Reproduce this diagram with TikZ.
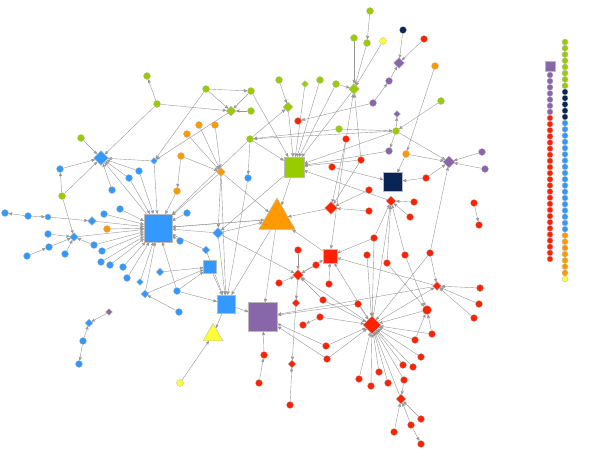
\documentclass[tikz,border=0pt]{standalone}
\usepackage{tikz}
\usetikzlibrary{shapes.geometric}
\usetikzlibrary{arrows}
\usetikzlibrary{backgrounds}
\definecolor{netblue}{RGB}{51,153,255}
\definecolor{netgreen}{RGB}{153,204,0}
\definecolor{netorange}{RGB}{255,153,0}
\definecolor{netred}{RGB}{255,34,0}
\definecolor{netpurple}{RGB}{136,102,170}
\definecolor{netnavy}{RGB}{10,36,86}
\definecolor{netyellow}{RGB}{255,255,51}
\definecolor{netgray}{RGB}{150,150,150}
\tikzset{
    vdot/.style={circle, draw=gray!55, line width=0.3pt, fill=#1, inner sep=0pt, minimum size=7pt},
    vdia/.style={diamond, draw=gray!55, line width=0.3pt, fill=#1, inner sep=0pt, minimum size=8pt},
    vsq/.style={rectangle, draw=gray!55, line width=0.4pt, fill=#1, inner sep=0pt, minimum size=14pt},
    vtri/.style={regular polygon, regular polygon sides=3, draw=gray!55, line width=0.4pt, fill=#1, inner sep=0pt, minimum size=42pt},
    ldot/.style={vdot=#1, minimum size=6pt},
    every edge/.append style={
        draw=netgray,
        ->,>=stealth',
        line width=0.4pt
    }
}
\begin{document}
\begin{tikzpicture}[x=1pt,y=-1pt]
            \useasboundingbox (0,0) rectangle (600,464);

            \node[vdia=netblue, minimum size=15pt] (bD) at (101,158) {};
            \node[vdia=netblue, minimum size=7pt] (bd1) at (154,161) {};
            \node[vdot=netblue] (b1) at (60,169) {};
            \node[vdot=netgreen] (g4) at (62,196) {};
            \node[vdot=netblue] (b2) at (139,171) {};
            \node[vdot=netblue] (b3) at (129,178) {};
            \node[vdot=netblue] (b4) at (112,190) {};
            \node[vdot=netblue] (b5) at (5,213) {};
            \node[vdot=netblue] (b6) at (28,216) {};
            \node[vdot=netblue, minimum size=6pt] (b7) at (48,217) {};
            \node[vdia=netblue, minimum size=9pt] (bd2) at (92,221) {};
            \node[vdot=netblue] (b8) at (104,214) {};
            \node[vdot=netblue] (b9) at (120,209) {};
            \node[vsq=netblue, minimum size=28pt] (bS) at (158,228) {};
            \node[vdot=netorange] (o6) at (107,229) {};
            \node[vdot=netblue] (b10) at (187,213) {};
            \node[vdot=netblue] (b11) at (48,234) {};
            \node[vdia=netblue, minimum size=9pt] (bd3) at (74,237) {};
            \node[vdot=netblue] (b12) at (49,247) {};
            \node[vdot=netblue] (b13) at (27,256) {};
            \node[vdot=netblue] (b14) at (65,254) {};
            \node[vdot=netblue] (b15) at (94,245) {};
            \node[vdot=netblue] (b16) at (102,251) {};
            \node[vdot=netblue] (b17) at (101,262) {};
            \node[vdot=netblue] (b18) at (110,265) {};
            \node[vdot=netblue] (b19) at (123,267) {};
            \node[vdot=netblue] (b20) at (127,278) {};
            \node[vdia=netblue, minimum size=7pt] (bd4) at (140,282) {};
            \node[vdia=netblue, minimum size=8pt] (bd5) at (160,272) {};
            \node[vdot=netblue] (b21) at (180,241) {};
            \node[vdia=netblue, minimum size=8pt] (bd6) at (145,294) {};
            \node[vdot=netblue] (b22) at (177,291) {};
            \node[vdot=netblue] (b23) at (179,312) {};
            \node[vdia=netblue, minimum size=11pt] (bd7) at (218,233) {};
            \node[vdia=netblue, minimum size=8pt] (bd8) at (206,250) {};
            \node[vsq=netblue, minimum size=13pt] (bs1) at (210,267) {};
            \node[vsq=netblue, minimum size=18pt] (bs2) at (226,304) {};
            \node[vdot=netblue] (b24) at (248,178) {};
            \node[vdia=netpurple, minimum size=7pt] (p1) at (109,312) {};
            \node[vdia=netblue, minimum size=8pt] (bd9) at (89,323) {};
            \node[vdot=netblue] (b25) at (83,341) {};
            \node[vdot=netblue] (b26) at (79,364) {};
            \node[vtri=netyellow, minimum size=23pt] (yT) at (213,335) {};
            \node[vdot=netyellow] (y1) at (180,383) {};
            \node[vsq=netpurple, minimum size=29pt] (pS) at (263,317) {};

            \node[vdot=netorange] (o1) at (187,134) {};
            \node[vdot=netorange] (o2) at (199,125) {};
            \node[vdot=netorange] (o3) at (215,125) {};
            \node[vdot=netorange] (o4) at (181,156) {};
            \node[vdot=netorange] (o5) at (177,191) {};
            \node[vdia=netorange, minimum size=9pt] (oD) at (221,172) {};

            \node[vdot=netgreen] (g1) at (147,76) {};
            \node[vdot=netgreen] (g2) at (157,104) {};
            \node[vdot=netgreen] (g3) at (81,138) {};
            \node[vdot=netgreen] (g5) at (370,11) {};
            \node[vdot=netgreen] (g6) at (354,38) {};
            \node[vdot=netgreen] (g7) at (367,43) {};
            \node[vdot=netyellow] (y2) at (383,41) {};
            \node[vdia=netgreen, minimum size=11pt] (gD1) at (354,89) {};
            \node[vdia=netpurple, minimum size=11pt] (pD1) at (399,63) {};
            \node[vdot=netnavy] (n1) at (403,30) {};
            \node[vdot=netred] (r1) at (424,39) {};
            \node[vdot=netpurple] (p2) at (389,81) {};
            \node[vdot=netpurple] (p3) at (373,103) {};
            \node[vdot=netgreen] (g8) at (206,89) {};
            \node[vdot=netgreen] (g9) at (251,91) {};
            \node[vdia=netgreen, minimum size=10pt] (gD2) at (231,111) {};
            \node[vdot=netgreen] (g10) at (251,111) {};
            \node[vdot=netgreen] (g11) at (279,80) {};
            \node[vdia=netgreen, minimum size=10pt] (gD3) at (288,107) {};
            \node[vdia=netgreen, minimum size=7pt] (gd4) at (305,84) {};
            \node[vdot=netgreen] (g12) at (320,80) {};
            \node[vdot=netgreen] (g13) at (336,84) {};
            \node[vdot=netred] (r2) at (298,121) {};
            \node[vdot=netgreen] (g14) at (339,129) {};
            \node[vdot=netgreen] (g15) at (250,139) {};
            \node[vdot=netred] (r3) at (346,139) {};
            \node[vdot=netred] (r4) at (361,160) {};
            \node[vdot=netpurple] (p4) at (389,151) {};
            \node[vdot=netgreen] (g16) at (396,131) {};
            \node[vdia=netpurple, minimum size=7pt] (pd2) at (397,114) {};
            \node[vdot=netorange] (o7) at (435,66) {};
            \node[vdot=netgreen] (g17) at (441,101) {};
            \node[vdot=netorange] (o8) at (406,154) {};
            \node[vdia=netpurple, minimum size=12pt] (pD3) at (449,162) {};
            \node[vdot=netpurple] (p5) at (482,152) {};
            \node[vdot=netpurple] (p6) at (485,169) {};
            \node[vsq=netgreen, minimum size=20pt] (gS) at (294,167) {};
            \node[vsq=netnavy, minimum size=19pt] (nS) at (393,182) {};
            \node[vdot=netred] (r5) at (332,167) {};
            \node[vdot=netred] (r6) at (426,178) {};
            \node[vtri=netorange] (oT) at (277,219) {};

            \node[vdot=netred] (r7) at (369,190) {};
            \node[vdia=netred, minimum size=13pt] (rD1) at (331,208) {};
            \node[vdot=netred] (r8) at (369,211) {};
            \node[vdia=netred, minimum size=10pt] (rD2) at (391,201) {};
            \node[vdot=netred] (r9) at (414,202) {};
            \node[vdot=netred] (r10) at (410,217) {};
            \node[vdot=netred] (r11) at (474,203) {};
            \node[vdot=netred] (r12) at (479,225) {};
            \node[vdot=netred] (r13) at (374,238) {};
            \node[vsq=netred] (rS) at (330,256) {};
            \node[vdot=netred] (r14) at (298,250) {};
            \node[vdot=netred] (r15) at (316,265) {};
            \node[vdot=netred] (r16) at (329,284) {};
            \node[vdia=netred, minimum size=11pt] (rD3) at (298,275) {};
            \node[vdot=netred] (r17) at (279,283) {};
            \node[vdot=netred] (r18) at (367,255) {};
            \node[vdot=netred] (r19) at (387,263) {};
            \node[vdot=netred] (r20) at (405,255) {};
            \node[vdot=netred] (r21) at (430,253) {};
            \node[vdia=netred, minimum size=9pt] (rD4) at (437,286) {};
            \node[vdot=netred] (r22) at (480,288) {};
            \node[vdot=netred] (r23) at (479,304) {};
            \node[vdot=netred] (r24) at (474,318) {};
            \node[vdot=netred, minimum size=9pt] (r25) at (427,310) {};
            \node[vdot=netred] (r26) at (415,340) {};
            \node[vdot=netred] (r27) at (432,334) {};
            \node[vdia=netred, minimum size=18pt] (rD5) at (372,325) {};
            \node[vdia=netred, minimum size=8pt] (rd6) at (296,303) {};
            \node[vdot=netred] (r28) at (323,300) {};
            \node[vdot=netred] (r29) at (358,304) {};
            \node[vdot=netred] (r30) at (320,317) {};
            \node[vdot=netred] (r31) at (303,325) {};
            \node[vdot=netred] (r32) at (326,346) {};
            \node[vdot=netred] (r33) at (327,359) {};
            \node[vdot=netred] (r34) at (264,355) {};
            \node[vdot=netred] (r35) at (259,383) {};
            \node[vdia=netred, minimum size=8pt] (rd7) at (292,364) {};
            \node[vdot=netred] (r36) at (290,405) {};
            \node[vdot=netred] (r37) at (359,379) {};
            \node[vdot=netred] (r38) at (371,386) {};
            \node[vdot=netred] (r39) at (379,372) {};
            \node[vdot=netred] (r40) at (388,383) {};
            \node[vdot=netred] (r41) at (403,365) {};
            \node[vdot=netred] (r42) at (413,367) {};
            \node[vdot=netred] (r43) at (421,357) {};
            \node[vdot=netred] (r44) at (404,380) {};
            \node[vdia=netred, minimum size=10pt] (rD8) at (401,399) {};
            \node[vdot=netred] (r45) at (421,419) {};
            \node[vdot=netred] (r46) at (411,425) {};
            \node[vdot=netred] (r47) at (394,432) {};
            \node[vdot=netred] (r48) at (421,444) {};

            \node[vsq=netpurple, minimum size=10pt] (lsq) at (550,66) {};
            \foreach \i in {0,...,6}
                \node[ldot=netpurple] (lp\i) at (550,{75+6.15*\i}) {};
            \foreach \i in {0,...,23}
                \node[ldot=netred] (lr\i) at (550,{118+6.13*\i}) {};
            \foreach \i in {0,...,7}
                \node[ldot=netgreen] (lg\i) at (565,{42+6.24*\i}) {};
            \foreach \i in {8,...,12}
                \node[ldot=netnavy] (ln\i) at (565,{42+6.24*\i}) {};
            \foreach \i in {13,...,30}
                \node[ldot=netblue] (lb\i) at (565,{42+6.24*\i}) {};
            \foreach \i in {31,...,37}
                \node[ldot=netorange] (lo\i) at (565,{42+6.24*\i}) {};
            \node[ldot=netyellow] (ly) at (565,279) {};

            \begin{scope}[on background layer]
            \draw (g2) edge (g1) edge (bD) edge (gD2);
            \draw (g3) edge (bD);
            \draw (g8) edge (g9) edge (gD2) edge (bd1);
            \draw (g9) edge (gD2) edge (gS);
            \draw (g10) edge (gD2);
            \draw (gD2) edge (bd1);
            \draw (bd1) edge (bD) edge (bS);
            \draw (b1) edge (bD);
            \draw (g4) edge (b1) edge (bD) edge (bd3);
            \draw (b2) edge (bD) edge (bS);
            \draw (b3) edge (bD) edge (bS);
            \draw (b4) edge (bD);
            \draw (bS) edge (bD) edge (oT);
            \draw (o1) edge (oD);
            \draw (o2) edge (oD);
            \draw (o3) edge (oD);
            \draw (o4) edge (o5) edge (oD);
            \draw (o5) edge (bS);
            \draw (oD) edge (bS) edge (bd7) edge (oT) edge (bs2);
            \draw (b6) edge (b5) edge (b7);
            \draw (b7) edge (bd2);
            \draw (bd2) edge (bS);
            \foreach \v in {b8,b9,o6,b10,b16,b17,b18,b19,b20,bd4,b21,b22,bd6}
                \draw (\v) edge (bS);
            \draw (b11) edge (bd3);
            \draw (b12) edge (bd3);
            \draw (b13) edge (b12);
            \draw (b14) edge (bd3);
            \draw (b15) edge (bd3) edge (bS);
            \draw (bd3) edge (bS);
            \draw (bd5) edge (bs1);
            \draw (b22) edge (bs1) edge (bs2);
            \draw (bd6) edge (bs1);
            \draw (b23) edge (bd6);
            \draw (bd7) edge (bS) edge (bs2) edge (oT) edge (rD3);
            \draw (bd8) edge (bS) edge (bs2);
            \draw (bs1) edge (bs2);
            \draw (b24) edge (bs2);
            \draw (g15) edge (b24) edge (gD3) edge (bS) edge (gS);
            \draw (bs2) edge (pS) edge (yT);
            \draw (y1) edge (yT);
            \draw (p1) edge (bd9);
            \draw (b25) edge (bd9) edge (b26);

            \draw (g5) edge (g7);
            \draw (g6) edge (gD1);
            \draw (g7) edge (gD1);
            \draw (y2) edge (gD1);
            \draw (gD1) edge (gS);
            \draw (g11) edge (gD3);
            \draw (gD3) edge (gS);
            \draw (gd4) edge (gS);
            \draw (g12) edge (gS);
            \draw (g13) edge (gS) edge (gD1);
            \draw (p3) edge (p2) edge (r2);
            \draw (p2) edge (pD1);
            \draw (n1) edge (pD1);
            \draw (r1) edge (pD1);
            \draw (o7) edge (o8);
            \draw (g17) edge (g16);
            \draw (g16) edge (pd2) edge (gS) edge (g15) edge (p4) edge (pD3);
            \draw (g14) edge (g16) edge (g15);
            \draw (o8) edge (pD3) edge (nS);
            \draw (p4) edge (gS);
            \draw (p5) edge (pD3);
            \draw (p6) edge (pD3);
            \draw (r6) edge (nS) edge (pD3);
            \draw (r5) edge (nS);
            \draw (r4) edge (gS) edge (gD1) edge (rD1);
            \draw (r3) edge (gD1) edge (rD1) edge (rS);

            \draw (r7) edge (rD1);
            \draw (r8) edge (rD1);
            \draw (rD1) edge (oT);
            \draw (gS) edge (oT) edge (bd7);
            \draw (rD2) edge (gS);
            \draw (r9) edge (rD2);
            \draw (r10) edge (rD2);
            \draw (r11) edge (r12);
            \draw (r13) edge (rD2) edge (rS) edge (rD5);
            \draw (rS) edge (oT);
            \draw (r14) edge (rD3);
            \draw (r15) edge (rD3);
            \draw (r16) edge (rS);
            \draw (rD3) edge (rS) edge (rd6);
            \draw (r17) edge (rD3);
            \draw (rd6) edge (rd7);
            \draw (r36) edge (rd7);
            \draw (rD5) edge (rD3) edge (rS) edge (rD4) edge (rD2);
            \draw (r28) edge (rD3) edge (rD5);
            \draw (r29) edge (pS) edge (rD5);
            \draw (r30) edge (r31) edge (rD5);
            \draw (r32) edge (rD5) edge (pS);
            \draw (r33) edge (rD5) edge (pS);
            \draw (r34) edge (pS);
            \draw (r35) edge (r34);
            \draw (r18) edge (rD5);
            \draw (r19) edge (r25) edge (rD2);
            \draw (r20) edge (r25) edge (rD2);
            \draw (r21) edge (pD3) edge (rD4) edge (rD5);
            \draw (rD4) edge (rS) edge (pS);
            \draw (r22) edge (rD4);
            \draw (r23) edge (rD4);
            \draw (r24) edge (rD4);
            \draw (r25) edge (rD5);
            \draw (r26) edge (r25) edge (rD5);
            \draw (r27) edge (r25) edge (rD5);
            \foreach \v in {r37,r38,r39,r40,r41,r42,r43,r44,rD8}
                \draw (\v) edge (rD5);
            \draw (r45) edge (rD8);
            \draw (r46) edge (rD8) edge (r48);
            \draw (r47) edge (rD8);
            \draw (r44) edge (rD8);
            \draw (oT) edge (pS) edge (bs2) edge (bS);
            \end{scope}
        \end{tikzpicture}
\end{document}
